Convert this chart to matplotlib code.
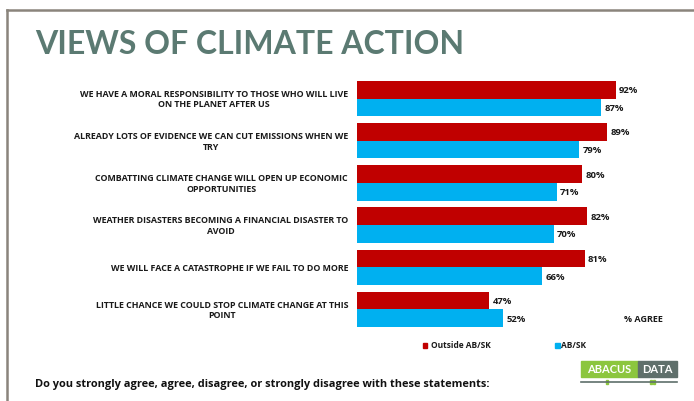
import matplotlib.pyplot as plt
from matplotlib.patches import Rectangle
from matplotlib.lines import Line2D

statements = [
    "WE HAVE A MORAL RESPONSIBILITY TO THOSE WHO WILL LIVE\nON THE PLANET AFTER US",
    "ALREADY LOTS OF EVIDENCE WE CAN CUT EMISSIONS WHEN WE\nTRY",
    "COMBATTING CLIMATE CHANGE WILL OPEN UP ECONOMIC\nOPPORTUNITIES",
    "WEATHER DISASTERS BECOMING A FINANCIAL DISASTER TO\nAVOID",
    "WE WILL FACE A CATASTROPHE IF WE FAIL TO DO MORE",
    "LITTLE CHANCE WE COULD STOP CLIMATE CHANGE AT THIS\nPOINT",
]
outside = [92, 89, 80, 82, 81, 47]
absk = [87, 79, 71, 70, 66, 52]
series_names = ["Outside AB/SK", "AB/SK"]

red = "#C00000"
blue = "#00B0F0"
ink = "#1a1a1a"
W, H = 694, 402

plt.rcParams['font.family'] = ['Open Sans', 'DejaVu Sans']
fig = plt.figure(figsize=(W / 100, H / 100), dpi=100)

# frame lines of the slide
fig.add_artist(Line2D([7 / W, 1], [1 - 11 / H, 1 - 11 / H], color="#8a847c", lw=1.8))
fig.add_artist(Line2D([7 / W, 7 / W], [1 - 11 / H, 0], color="#8a847c", lw=1.8))

fig.text(35 / W, 1 - 44 / H, "VIEWS OF CLIMATE ACTION", fontsize=23, fontweight="bold",
         family=["Lato", "DejaVu Sans"], color="#5b7a72", va="center", ha="left")

ax = fig.add_axes([357 / W, 74 / H, 281 / W, 246 / H])
ypos = list(range(len(statements)))
bh = 0.415
ax.barh([y - 0.21 for y in ypos], outside, height=bh, color=red)
ax.barh([y + 0.21 for y in ypos], absk, height=bh, color=blue)
ax.set_xlim(0, 100)
ax.set_ylim(5.42, -0.42)
ax.axis("off")

for y, v in zip(ypos, outside):
    ax.text(v + 1.2, y - 0.21, f"{v}%", fontsize=6.8, fontweight="bold", va="center", color=ink)
for y, v in zip(ypos, absk):
    ax.text(v + 1.2, y + 0.21, f"{v}%", fontsize=6.8, fontweight="bold", va="center", color=ink)
for y, s in zip(ypos, statements):
    ax.text(-3.2, y, s, fontsize=6.4, fontweight="bold", ha="right", va="center",
            multialignment="center", color=ink, linespacing=1.2)

fig.text(624 / W, 1 - 320 / H, "% AGREE", fontsize=6.5, fontweight="bold", va="center", color=ink)

# legend
fig.add_artist(Rectangle((423 / W, 1 - 348.5 / H), 4.5 / W, 4.5 / H, color=red))
fig.text(431 / W, 1 - 346 / H, series_names[0], fontsize=6, fontweight="bold", va="center", color=ink)
fig.add_artist(Rectangle((555 / W, 1 - 348.5 / H), 4.5 / W, 4.5 / H, color=blue))
fig.text(561 / W, 1 - 346 / H, series_names[1], fontsize=6, fontweight="bold", va="center", color=ink)

fig.text(35 / W, 1 - 385 / H,
         "Do you strongly agree, agree, disagree, or strongly disagree with these statements:",
         fontsize=7.9, fontweight="bold", va="center", color="#111111")

# logo
fig.add_artist(Rectangle((581 / W, 1 - 378 / H), 57 / W, 16 / H, color="#8cc63e"))
fig.add_artist(Rectangle((638 / W, 1 - 378 / H), 39 / W, 16 / H, color="#5f6f6b"))
fig.text(609.5 / W, 1 - 370 / H, "ABACUS", fontsize=8, fontweight="bold", family=["Lato", "DejaVu Sans"],
         color="white", ha="center", va="center")
fig.text(657.5 / W, 1 - 370 / H, "DATA", fontsize=8, fontweight="bold", family=["Lato", "DejaVu Sans"],
         color="white", ha="center", va="center")
fig.add_artist(Line2D([581 / W, 677 / W], [1 - 383 / H, 1 - 383 / H], color="#5f6f6b", lw=1.2))
fig.add_artist(Rectangle((606 / W, 1 - 385 / H), 2 / W, 4 / H, color="#8cc63e"))
fig.add_artist(Rectangle((650 / W, 1 - 385 / H), 2 / W, 4 / H, color="#8cc63e"))
fig.add_artist(Rectangle((653 / W, 1 - 385 / H), 2 / W, 4 / H, color="#8cc63e"))

fig.savefig("out.png", dpi=100)
